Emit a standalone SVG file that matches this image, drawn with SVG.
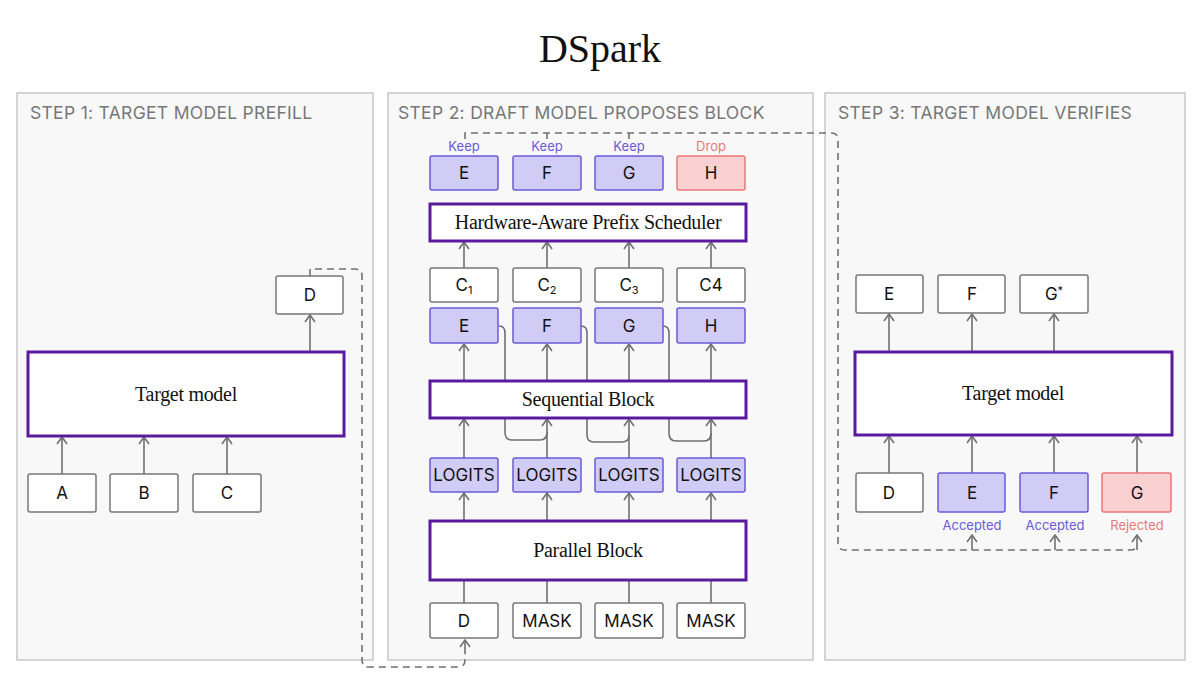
<svg xmlns="http://www.w3.org/2000/svg" width="1200" height="675" viewBox="0 0 1200 675">
<style>
.panel{fill:#f8f8f8;stroke:#c8c8c8;stroke-width:1.5}
.box{fill:#fff;stroke:#777;stroke-width:1.5}
.pur{fill:#d0ccf5;stroke:#6a5ad8;stroke-width:1.5}
.red{fill:#fbd0d0;stroke:#e87878;stroke-width:1.5}
.blk{fill:#fff;stroke:#5a1a9e;stroke-width:3}
.t{font-family:Inter,"Liberation Sans",sans-serif;font-size:17px;fill:#111;text-anchor:middle}
.s{font-family:"Liberation Serif",serif;font-size:20px;fill:#111;text-anchor:middle;letter-spacing:-0.3px}
.h{font-family:Inter,"Liberation Sans",sans-serif;font-size:17.5px;fill:#777;letter-spacing:0.3px}
.lp{font-family:Inter,"Liberation Sans",sans-serif;font-size:13px;fill:#6a5ad8;text-anchor:middle}
.lr{font-family:Inter,"Liberation Sans",sans-serif;font-size:13px;fill:#e87878;text-anchor:middle}
.c{fill:none;stroke:#707070;stroke-width:1.6}
.d{fill:none;stroke:#707070;stroke-width:1.6;stroke-dasharray:7 5}
</style>
<defs><marker id="a" viewBox="0 0 10 12" refX="9" refY="6" markerWidth="10" markerHeight="12" markerUnits="userSpaceOnUse" orient="auto"><path d="M2,1 L9,6 L2,11" fill="none" stroke="#707070" stroke-width="1.6"/></marker></defs>
<rect width="1200" height="675" fill="#fff"/>
<text x="600" y="62" font-family="Liberation Serif,serif" font-size="40" fill="#111" text-anchor="middle">DSpark</text>
<rect class="panel" x="17" y="93" width="356" height="567"/>
<rect class="panel" x="388" y="93" width="425" height="567"/>
<rect class="panel" x="825" y="93" width="360" height="567"/>
<text class="h" x="30" y="119">STEP 1: TARGET MODEL PREFILL</text>
<text class="h" x="398" y="119">STEP 2: DRAFT MODEL PROPOSES BLOCK</text>
<text class="h" x="838" y="119">STEP 3: TARGET MODEL VERIFIES</text>

<g id="connectors">
<path class="c" marker-end="url(#a)" d="M62,474 V437"/>
<path class="c" marker-end="url(#a)" d="M144,474 V437"/>
<path class="c" marker-end="url(#a)" d="M227,474 V437"/>
<path class="c" marker-end="url(#a)" d="M310,352 V315"/>
<path class="d" d="M310,276 V269 H355 Q362,269 362,276 V660 Q362,667 369,667 H458 Q465,667 465,660 V650"/>
<path class="c" d="M465,650 V640" marker-end="url(#a)"/>
<path class="c" d="M464,603 V581 M547,603 V581 M629,603 V581 M711,603 V581"/>
<path class="c" marker-end="url(#a)" d="M464,521 V493"/>
<path class="c" marker-end="url(#a)" d="M547,521 V493"/>
<path class="c" marker-end="url(#a)" d="M629,521 V493"/>
<path class="c" marker-end="url(#a)" d="M711,521 V493"/>
<path class="c" marker-end="url(#a)" d="M464,458 V419"/>
<path class="c" marker-end="url(#a)" d="M547,458 V419"/>
<path class="c" marker-end="url(#a)" d="M629,458 V419"/>
<path class="c" marker-end="url(#a)" d="M711,458 V419"/>
<path class="c" d="M499,326 Q505,326 505,333 V432 Q505,440 512,440 H540 Q547,440 547,432"/>
<path class="c" d="M581,326 Q587,326 587,333 V435 Q587,442 594,442 H622 Q629,442 629,435"/>
<path class="c" d="M663,326 Q669,326 669,333 V433 Q669,441 676,441 H704 Q711,441 711,433"/>
<path class="c" marker-end="url(#a)" d="M464,381 V344"/>
<path class="c" marker-end="url(#a)" d="M547,381 V344"/>
<path class="c" marker-end="url(#a)" d="M629,381 V344"/>
<path class="c" marker-end="url(#a)" d="M711,381 V344"/>
<path class="c" marker-end="url(#a)" d="M464,268 V242"/>
<path class="c" marker-end="url(#a)" d="M547,268 V242"/>
<path class="c" marker-end="url(#a)" d="M629,268 V242"/>
<path class="c" marker-end="url(#a)" d="M711,268 V242"/>
<path class="d" d="M465,139 V133 H831 Q838,133 838,140 V543 Q838,550 845,550 H1130 Q1137,550 1137,545"/>
<path class="c" d="M547,139 V133 M629,139 V133"/>
<path class="c" marker-end="url(#a)" d="M972,550 V535"/>
<path class="c" marker-end="url(#a)" d="M1055,550 V535"/>
<path class="c" marker-end="url(#a)" d="M1137,550 V535"/>
<path class="c" marker-end="url(#a)" d="M889,473 V436"/>
<path class="c" marker-end="url(#a)" d="M972,473 V436"/>
<path class="c" marker-end="url(#a)" d="M1054,473 V436"/>
<path class="c" marker-end="url(#a)" d="M1137,473 V436"/>
<path class="c" marker-end="url(#a)" d="M889,352 V314"/>
<path class="c" marker-end="url(#a)" d="M972,352 V314"/>
<path class="c" marker-end="url(#a)" d="M1054,352 V314"/>
</g>

<g id="s1-target"><rect class="blk" x="28" y="352" width="316" height="84"/><text class="s" x="186" y="401">Target model</text></g>
<g id="s1-A"><rect class="box" x="28" y="474" width="68" height="38" rx="2"/><text class="t" x="62" y="499">A</text></g>
<g id="s1-B"><rect class="box" x="110" y="474" width="68" height="38" rx="2"/><text class="t" x="144" y="499">B</text></g>
<g id="s1-C"><rect class="box" x="193" y="474" width="68" height="38" rx="2"/><text class="t" x="227" y="499">C</text></g>
<g id="s1-D"><rect class="box" x="276" y="276" width="67" height="38" rx="2"/><text class="t" x="310" y="301">D</text></g>

<g id="s2-top">
<text class="lp" x="464" y="151">Keep</text><text class="lp" x="547" y="151">Keep</text><text class="lp" x="629" y="151">Keep</text><text class="lr" x="711" y="151">Drop</text>
<rect class="pur" x="430" y="156" width="68" height="34" rx="2"/><text class="t" x="464" y="179">E</text>
<rect class="pur" x="513" y="156" width="68" height="34" rx="2"/><text class="t" x="547" y="179">F</text>
<rect class="pur" x="595" y="156" width="68" height="34" rx="2"/><text class="t" x="629" y="179">G</text>
<rect class="red" x="677" y="156" width="68" height="34" rx="2"/><text class="t" x="711" y="179">H</text>
</g>
<g id="s2-sched"><rect class="blk" x="430" y="204" width="316" height="37"/><text class="s" x="588" y="229">Hardware-Aware Prefix Scheduler</text></g>
<g id="s2-c">
<rect class="box" x="430" y="268" width="68" height="34" rx="2"/><text class="t" x="464" y="291">C<tspan font-size="11" dy="3">1</tspan></text>
<rect class="box" x="513" y="268" width="68" height="34" rx="2"/><text class="t" x="547" y="291">C<tspan font-size="11" dy="3">2</tspan></text>
<rect class="box" x="595" y="268" width="68" height="34" rx="2"/><text class="t" x="629" y="291">C<tspan font-size="11" dy="3">3</tspan></text>
<rect class="box" x="677" y="268" width="68" height="34" rx="2"/><text class="t" x="711" y="291">C4</text>
</g>
<g id="s2-e">
<rect class="pur" x="430" y="308" width="68" height="35" rx="2"/><text class="t" x="464" y="332">E</text>
<rect class="pur" x="513" y="308" width="68" height="35" rx="2"/><text class="t" x="547" y="332">F</text>
<rect class="pur" x="595" y="308" width="68" height="35" rx="2"/><text class="t" x="629" y="332">G</text>
<rect class="pur" x="677" y="308" width="68" height="35" rx="2"/><text class="t" x="711" y="332">H</text>
</g>
<g id="s2-seq"><rect class="blk" x="430" y="381" width="316" height="37"/><text class="s" x="588" y="406">Sequential Block</text></g>
<g id="s2-logits">
<rect class="pur" x="430" y="458" width="68" height="34" rx="2"/><text class="t" x="464" y="481">LOGITS</text>
<rect class="pur" x="513" y="458" width="68" height="34" rx="2"/><text class="t" x="547" y="481">LOGITS</text>
<rect class="pur" x="595" y="458" width="68" height="34" rx="2"/><text class="t" x="629" y="481">LOGITS</text>
<rect class="pur" x="677" y="458" width="68" height="34" rx="2"/><text class="t" x="711" y="481">LOGITS</text>
</g>
<g id="s2-par"><rect class="blk" x="430" y="521" width="316" height="59"/><text class="s" x="588" y="557">Parallel Block</text></g>
<g id="s2-in">
<rect class="box" x="430" y="603" width="68" height="35" rx="2"/><text class="t" x="464" y="627">D</text>
<rect class="box" x="513" y="603" width="68" height="35" rx="2"/><text class="t" x="547" y="627">MASK</text>
<rect class="box" x="595" y="603" width="68" height="35" rx="2"/><text class="t" x="629" y="627">MASK</text>
<rect class="box" x="677" y="603" width="68" height="35" rx="2"/><text class="t" x="711" y="627">MASK</text>
</g>

<g id="s3-out">
<rect class="box" x="856" y="275" width="67" height="38" rx="2"/><text class="t" x="889" y="300">E</text>
<rect class="box" x="938" y="275" width="67" height="38" rx="2"/><text class="t" x="972" y="300">F</text>
<rect class="box" x="1020" y="275" width="68" height="38" rx="2"/><text class="t" x="1054" y="300">G<tspan font-size="11" dy="-6">*</tspan></text>
</g>
<g id="s3-target"><rect class="blk" x="855" y="352" width="317" height="83"/><text class="s" x="1013" y="400">Target model</text></g>
<g id="s3-in">
<rect class="box" x="856" y="473" width="67" height="39" rx="2"/><text class="t" x="889" y="499">D</text>
<rect class="pur" x="938" y="473" width="67" height="39" rx="2"/><text class="t" x="972" y="499">E</text>
<rect class="pur" x="1020" y="473" width="68" height="39" rx="2"/><text class="t" x="1054" y="499">F</text>
<rect class="red" x="1102" y="473" width="69" height="39" rx="2"/><text class="t" x="1137" y="499">G</text>
<text class="lp" x="972" y="530">Accepted</text><text class="lp" x="1055" y="530">Accepted</text><text class="lr" x="1137" y="530">Rejected</text>
</g>
</svg>
